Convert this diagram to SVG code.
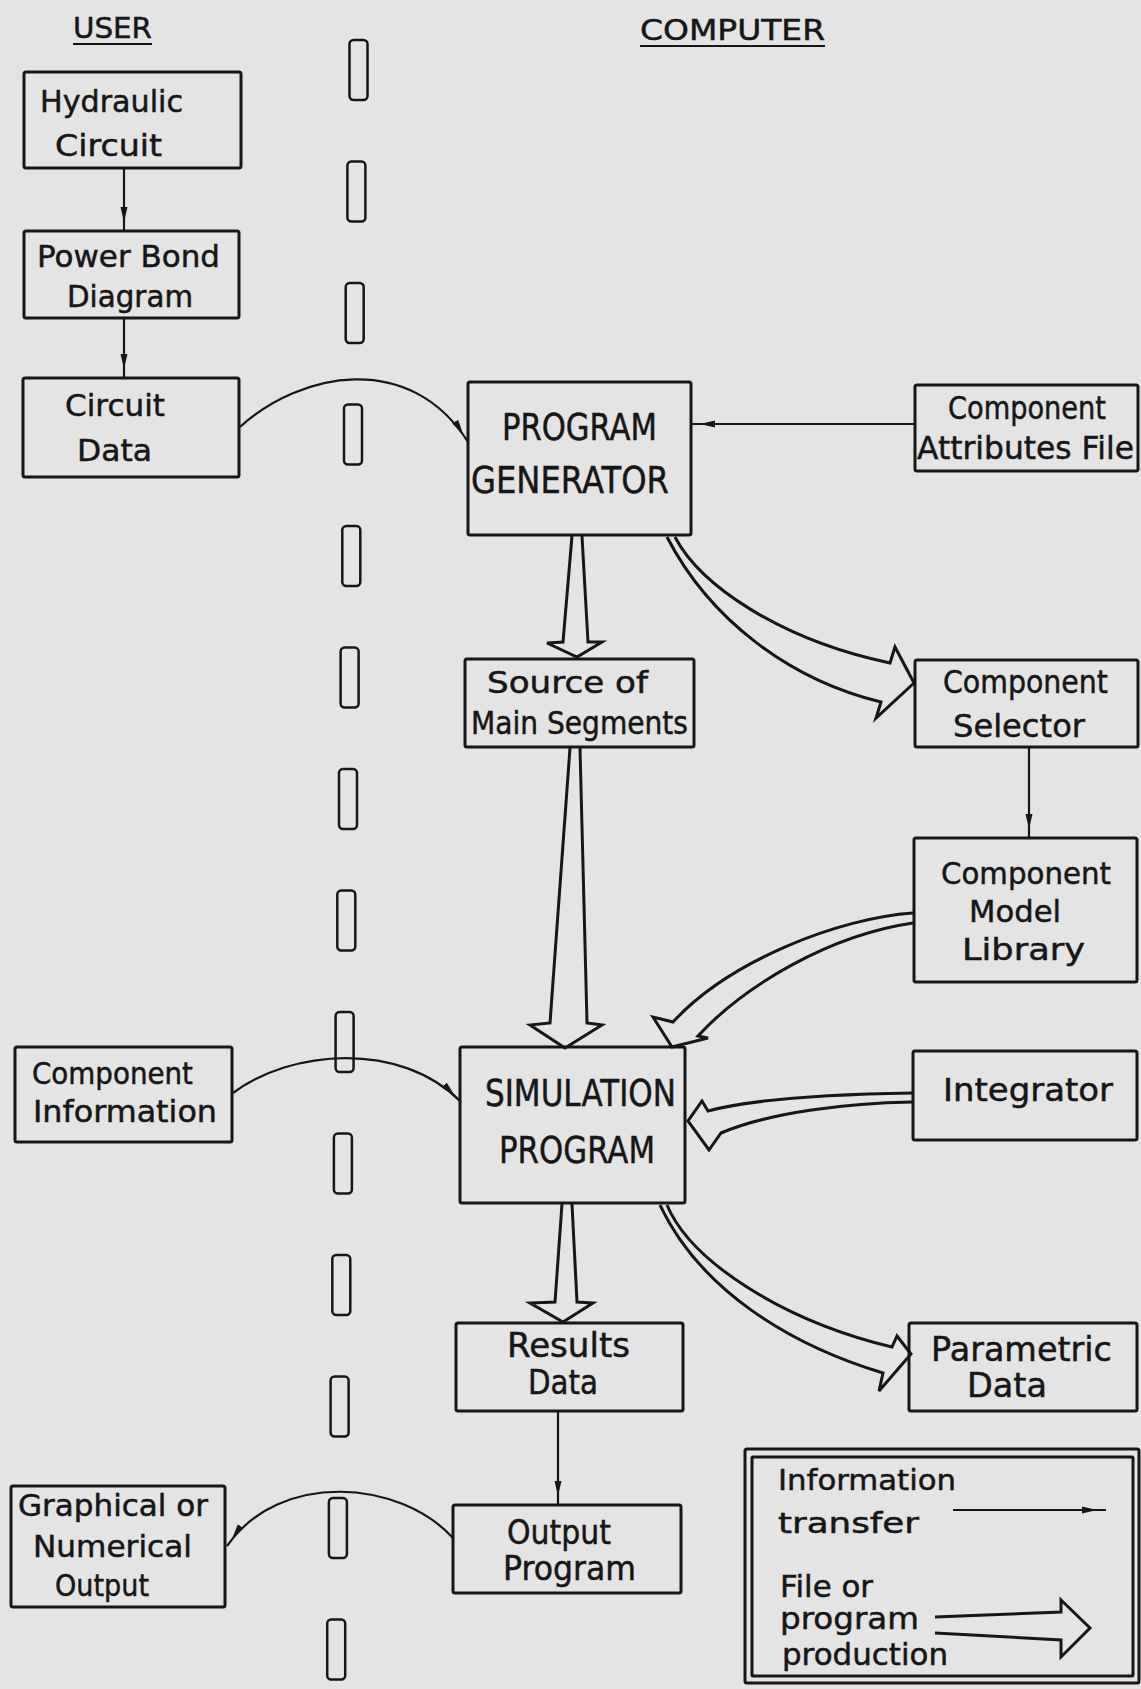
<svg xmlns="http://www.w3.org/2000/svg" width="1141" height="1689" viewBox="0 0 1141 1689">
<defs>
<style>
.box{fill:none;stroke:#161616;stroke-width:3;stroke-linejoin:round}
.t{font-family:"DejaVu Sans","Liberation Sans",sans-serif;fill:#161616;stroke:#161616;stroke-width:0.5}
.info{fill:none;stroke:#161616;stroke-width:2.2}
.hollow{fill:none;stroke:#161616;stroke-width:3;stroke-linejoin:miter}
.dash{fill:none;stroke:#161616;stroke-width:2.5}
.ul{stroke:#161616;stroke-width:2.2}
</style>
<marker id="ah" markerUnits="userSpaceOnUse" markerWidth="30" markerHeight="12" viewBox="0 -6 30 12" refX="24" refY="0" orient="auto">
<path d="M0,-3.5 L15,0 L0,3.5 Z" fill="#161616"/>
</marker>
</defs>
<rect x="0" y="0" width="1141" height="1689" fill="#e4e4e4"/>

<g id="headers">
<text class="t" x="73" y="38" font-size="29" textLength="79" lengthAdjust="spacingAndGlyphs">USER</text>
<line class="ul" x1="73" y1="44" x2="152" y2="44"/>
<text class="t" x="640" y="40" font-size="29" textLength="185" lengthAdjust="spacingAndGlyphs">COMPUTER</text>
<line class="ul" x1="640" y1="46" x2="825" y2="46"/>
</g>

<g id="separator">
<rect class="dash" x="349.5" y="40" width="18" height="60" rx="4"/>
<rect class="dash" x="347.4" y="161.5" width="18" height="60" rx="4"/>
<rect class="dash" x="345.7" y="283" width="18" height="60" rx="4"/>
<rect class="dash" x="344" y="404.5" width="18" height="60" rx="4"/>
<rect class="dash" x="342.3" y="526" width="18" height="60" rx="4"/>
<rect class="dash" x="340.6" y="647.5" width="18" height="60" rx="4"/>
<rect class="dash" x="339" y="769" width="18" height="60" rx="4"/>
<rect class="dash" x="337.3" y="890.5" width="18" height="60" rx="4"/>
<rect class="dash" x="335.6" y="1012" width="18" height="60" rx="4"/>
<rect class="dash" x="333.9" y="1133.5" width="18" height="60" rx="4"/>
<rect class="dash" x="332.3" y="1255" width="18" height="60" rx="4"/>
<rect class="dash" x="330.6" y="1376.5" width="18" height="60" rx="4"/>
<rect class="dash" x="328.9" y="1498" width="18" height="60" rx="4"/>
<rect class="dash" x="327.2" y="1619.5" width="18" height="60" rx="4"/>
</g>

<g id="hydraulic-circuit">
<rect class="box" x="24" y="72" width="217" height="96" rx="2"/>
<text class="t" x="40" y="112" font-size="30" textLength="143" lengthAdjust="spacingAndGlyphs">Hydraulic</text>
<text class="t" x="55" y="156" font-size="30" textLength="107" lengthAdjust="spacingAndGlyphs">Circuit</text>
</g>
<g id="power-bond-diagram">
<rect class="box" x="24" y="231" width="215" height="87" rx="2"/>
<text class="t" x="37" y="267" font-size="30" textLength="183" lengthAdjust="spacingAndGlyphs">Power Bond</text>
<text class="t" x="67" y="307" font-size="30" textLength="126" lengthAdjust="spacingAndGlyphs">Diagram</text>
</g>
<g id="circuit-data">
<rect class="box" x="23" y="378" width="216" height="99" rx="2"/>
<text class="t" x="65" y="416" font-size="31" textLength="100" lengthAdjust="spacingAndGlyphs">Circuit</text>
<text class="t" x="77" y="461" font-size="31" textLength="75" lengthAdjust="spacingAndGlyphs">Data</text>
</g>
<g id="program-generator">
<rect class="box" x="468" y="382" width="223" height="153" rx="2"/>
<text class="t" x="502" y="440" font-size="37" textLength="155" lengthAdjust="spacingAndGlyphs">PROGRAM</text>
<text class="t" x="471" y="493" font-size="37" textLength="198" lengthAdjust="spacingAndGlyphs">GENERATOR</text>
</g>
<g id="component-attributes-file">
<rect class="box" x="915" y="385" width="223" height="86" rx="2"/>
<text class="t" x="948" y="419" font-size="32" textLength="158" lengthAdjust="spacingAndGlyphs">Component</text>
<text class="t" x="917" y="459" font-size="32" textLength="217" lengthAdjust="spacingAndGlyphs">Attributes File</text>
</g>
<g id="source-of-main-segments">
<rect class="box" x="465" y="659" width="229" height="88" rx="2"/>
<text class="t" x="487" y="693" font-size="31" textLength="161" lengthAdjust="spacingAndGlyphs">Source  of</text>
<text class="t" x="471" y="734" font-size="32" textLength="217" lengthAdjust="spacingAndGlyphs">Main Segments</text>
</g>
<g id="component-selector">
<rect class="box" x="915" y="660" width="223" height="87" rx="2"/>
<text class="t" x="943" y="693" font-size="32" textLength="165" lengthAdjust="spacingAndGlyphs">Component</text>
<text class="t" x="953" y="737" font-size="32" textLength="132" lengthAdjust="spacingAndGlyphs">Selector</text>
</g>
<g id="component-model-library">
<rect class="box" x="914" y="838" width="223" height="144" rx="2"/>
<text class="t" x="941" y="884" font-size="31" textLength="170" lengthAdjust="spacingAndGlyphs">Component</text>
<text class="t" x="969" y="922" font-size="31" textLength="92" lengthAdjust="spacingAndGlyphs">Model</text>
<text class="t" x="962" y="960" font-size="31" textLength="123" lengthAdjust="spacingAndGlyphs">Library</text>
</g>
<g id="simulation-program">
<rect class="box" x="460" y="1047" width="225" height="156" rx="2"/>
<text class="t" x="485" y="1106" font-size="37" textLength="191" lengthAdjust="spacingAndGlyphs">SIMULATION</text>
<text class="t" x="499" y="1163" font-size="37" textLength="156" lengthAdjust="spacingAndGlyphs">PROGRAM</text>
</g>
<g id="component-information">
<rect class="box" x="15" y="1047" width="217" height="95" rx="2"/>
<text class="t" x="32" y="1084" font-size="31" textLength="161" lengthAdjust="spacingAndGlyphs">Component</text>
<text class="t" x="33" y="1122" font-size="31" textLength="184" lengthAdjust="spacingAndGlyphs">Information</text>
</g>
<g id="integrator">
<rect class="box" x="913" y="1051" width="224" height="89" rx="2"/>
<text class="t" x="943" y="1101" font-size="32" textLength="170" lengthAdjust="spacingAndGlyphs">Integrator</text>
</g>
<g id="results-data">
<rect class="box" x="456" y="1323" width="227" height="88" rx="2"/>
<text class="t" x="507" y="1357" font-size="33" textLength="123" lengthAdjust="spacingAndGlyphs">Results</text>
<text class="t" x="528" y="1394" font-size="33" textLength="70" lengthAdjust="spacingAndGlyphs">Data</text>
</g>
<g id="parametric-data">
<rect class="box" x="909" y="1323" width="228" height="88" rx="2"/>
<text class="t" x="931" y="1361" font-size="33" textLength="181" lengthAdjust="spacingAndGlyphs">Parametric</text>
<text class="t" x="967" y="1397" font-size="33" textLength="80" lengthAdjust="spacingAndGlyphs">Data</text>
</g>
<g id="output-program">
<rect class="box" x="453" y="1505" width="228" height="88" rx="2"/>
<text class="t" x="507" y="1544" font-size="33" textLength="104" lengthAdjust="spacingAndGlyphs">Output</text>
<text class="t" x="503" y="1580" font-size="33" textLength="133" lengthAdjust="spacingAndGlyphs">Program</text>
</g>
<g id="graphical-output">
<rect class="box" x="11" y="1486" width="214" height="121" rx="2"/>
<text class="t" x="18" y="1516" font-size="30" textLength="190" lengthAdjust="spacingAndGlyphs">Graphical or</text>
<text class="t" x="33" y="1557" font-size="30" textLength="159" lengthAdjust="spacingAndGlyphs">Numerical</text>
<text class="t" x="55" y="1596" font-size="31" textLength="94" lengthAdjust="spacingAndGlyphs">Output</text>
</g>

<g id="legend">
<rect class="box" x="745" y="1449" width="394" height="234" rx="2"/>
<rect class="box" x="752" y="1457" width="381" height="219" rx="1"/>
<text class="t" x="778" y="1490" font-size="29" textLength="178" lengthAdjust="spacingAndGlyphs">Information</text>
<text class="t" x="778" y="1533" font-size="29" textLength="141" lengthAdjust="spacingAndGlyphs">transfer</text>
<line class="info" x1="953" y1="1510" x2="1106" y2="1510" marker-end="url(#ah)"/>
<text class="t" x="780" y="1597" font-size="30" textLength="93" lengthAdjust="spacingAndGlyphs">File or</text>
<text class="t" x="780" y="1629" font-size="30" textLength="139" lengthAdjust="spacingAndGlyphs">program</text>
<text class="t" x="782" y="1665" font-size="30" textLength="166" lengthAdjust="spacingAndGlyphs">production</text>
<path class="hollow" d="M935,1617 L1061,1612 L1061,1600 L1090,1628 L1061,1657 L1061,1640 L935,1633"/>
</g>

<g id="connectors">
<line class="info" x1="124" y1="168" x2="124" y2="231" marker-end="url(#ah)"/>
<line class="info" x1="124" y1="318" x2="124" y2="378" marker-end="url(#ah)"/>
<path class="info" d="M240,427 C300,372 410,350 468,442" marker-end="url(#ah)"/>
<line class="info" x1="915" y1="424" x2="691" y2="424" marker-end="url(#ah)"/>
<line class="info" x1="1029" y1="747" x2="1029" y2="838" marker-end="url(#ah)"/>
<path class="info" d="M233,1093 C290,1050 400,1040 461,1102" marker-end="url(#ah)"/>
<line class="info" x1="558" y1="1411" x2="558" y2="1505" marker-end="url(#ah)"/>
<path class="info" d="M453,1538 C400,1480 280,1470 227,1546" marker-end="url(#ah)"/>

<path class="hollow" d="M572,536 L563,642 L547,643 L577,657 L602,642 L588,642 L582,536"/>
<path class="hollow" d="M675,537 C700,585 780,640 890,663 L895,647 L914,683 L876,718 L881,702 C790,680 710,620 667,537"/>
<path class="hollow" d="M570,748 L550,1023 L530,1025 L565,1048 L602,1025 L587,1023 L580,748"/>
<path class="hollow" d="M913,913 C840,918 730,960 673,1022 L653,1017 L672,1047 L708,1038 L698,1036 C745,985 830,935 913,923"/>
<path class="hollow" d="M912,1093 C850,1094 760,1097 708,1111 L702,1101 L688,1121 L709,1150 L721,1133 C770,1112 850,1103 912,1102"/>
<path class="hollow" d="M562,1204 L555,1302 L530,1303 L563,1322 L593,1303 L577,1302 L572,1204"/>
<path class="hollow" d="M667,1205 C690,1260 780,1320 892,1347 L897,1336 L911,1354 L879,1391 L883,1373 C790,1345 700,1290 660,1205"/>
</g>
</svg>
